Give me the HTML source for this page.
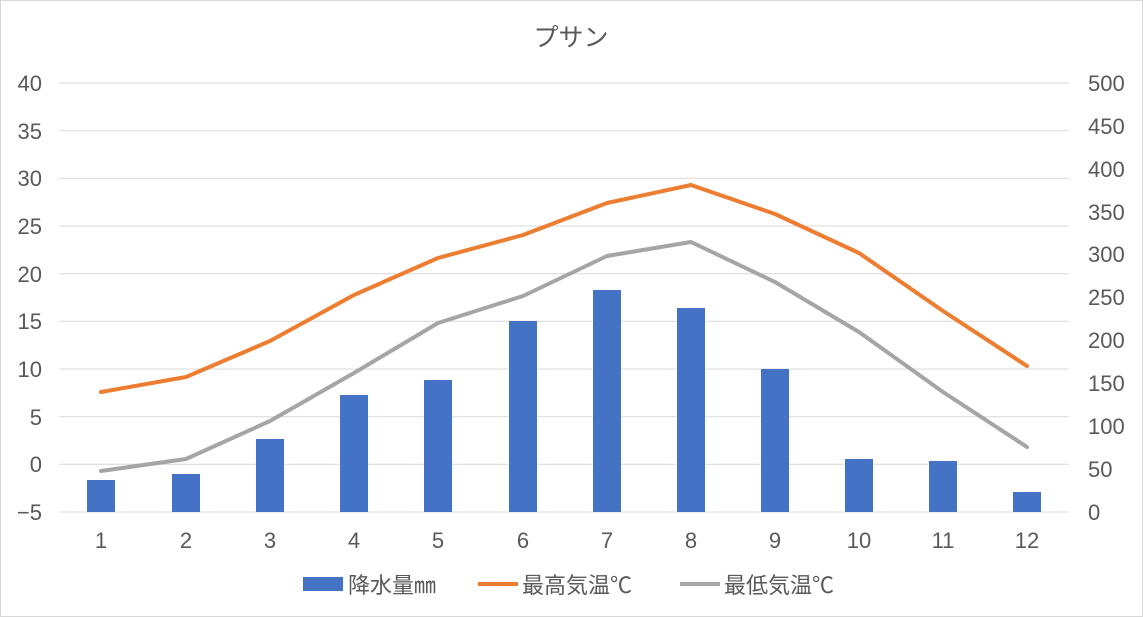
<!DOCTYPE html>
<html><head><meta charset="utf-8"><style>
html,body{margin:0;padding:0;background:#fff;}
svg{display:block;}
text{font-family:"Liberation Sans Narrow","Liberation Sans","Noto Sans CJK JP",sans-serif;fill:#595959;}
</style></head><body>
<svg width="1143" height="617" viewBox="0 0 1143 617" xmlns="http://www.w3.org/2000/svg">
<rect x="0.5" y="0.5" width="1142" height="616" fill="#fff" stroke="#d9d9d9"/>
<text x="571" y="46" font-size="25" text-anchor="middle">プサン</text>
<g stroke="#d9d9d9" stroke-width="1">
<line x1="59" x2="1069" y1="83" y2="83"/><line x1="59" x2="1069" y1="130.7" y2="130.7"/>
<line x1="59" x2="1069" y1="178.3" y2="178.3"/><line x1="59" x2="1069" y1="226" y2="226"/>
<line x1="59" x2="1069" y1="273.7" y2="273.7"/><line x1="59" x2="1069" y1="321.3" y2="321.3"/>
<line x1="59" x2="1069" y1="369" y2="369"/><line x1="59" x2="1069" y1="416.7" y2="416.7"/>
<line x1="59" x2="1069" y1="464.3" y2="464.3"/><line x1="59" x2="1069" y1="512" y2="512"/>
</g>
<g font-size="22" text-anchor="end">
<text x="42" y="91">40</text><text x="42" y="139">35</text><text x="42" y="186">30</text>
<text x="42" y="234">25</text><text x="42" y="282">20</text><text x="42" y="329">15</text>
<text x="42" y="377">10</text><text x="42" y="425">5</text><text x="42" y="472">0</text>
<text x="42" y="520">−5</text>
</g>
<g font-size="22" text-anchor="start">
<text x="1088" y="91">500</text><text x="1088" y="134">450</text><text x="1088" y="177">400</text>
<text x="1088" y="220">350</text><text x="1088" y="262">300</text><text x="1088" y="305">250</text>
<text x="1088" y="348">200</text><text x="1088" y="391">150</text><text x="1088" y="434">100</text>
<text x="1088" y="477">50</text><text x="1088" y="520">0</text>
</g>
<g fill="#4472c4">
<rect x="87" y="480" width="28" height="32"/><rect x="172" y="474" width="28" height="38"/>
<rect x="256" y="439" width="28" height="73"/><rect x="340" y="395" width="28" height="117"/>
<rect x="424" y="380" width="28" height="132"/><rect x="509" y="321" width="28" height="191"/>
<rect x="593" y="290" width="28" height="222"/><rect x="677" y="308" width="28" height="204"/>
<rect x="761" y="369" width="28" height="143"/><rect x="845" y="459" width="28" height="53"/>
<rect x="929" y="461" width="28" height="51"/><rect x="1013" y="492" width="28" height="20"/>
</g>
<polyline fill="none" stroke="#ed7d31" stroke-width="4" stroke-linejoin="round" stroke-linecap="round"
points="101,392 186,377 270,341 354,295 438,258 523,235 607,203 691,185 775,214 859,253 943,311 1027,366"/>
<polyline fill="none" stroke="#a5a5a5" stroke-width="4" stroke-linejoin="round" stroke-linecap="round"
points="101,471 186,459 270,421 354,373 438,323 523,296 607,256 691,242 775,282 859,332 943,392 1027,447"/>
<g font-size="22" text-anchor="middle">
<text x="101" y="548">1</text><text x="186" y="548">2</text><text x="270" y="548">3</text>
<text x="354" y="548">4</text><text x="438" y="548">5</text><text x="523" y="548">6</text>
<text x="607" y="548">7</text><text x="691" y="548">8</text><text x="775" y="548">9</text>
<text x="859" y="548">10</text><text x="943" y="548">11</text><text x="1027" y="548">12</text>
</g>
<rect x="303" y="577" width="40" height="14" fill="#4472c4"/>
<text x="348" y="593" font-size="22">降水量㎜</text>
<line x1="478" x2="518" y1="584" y2="584" stroke="#ed7d31" stroke-width="4"/>
<text x="522" y="593" font-size="22">最高気温℃</text>
<line x1="680" x2="720" y1="584" y2="584" stroke="#a5a5a5" stroke-width="4"/>
<text x="724" y="593" font-size="22">最低気温℃</text>
</svg>
</body></html>
